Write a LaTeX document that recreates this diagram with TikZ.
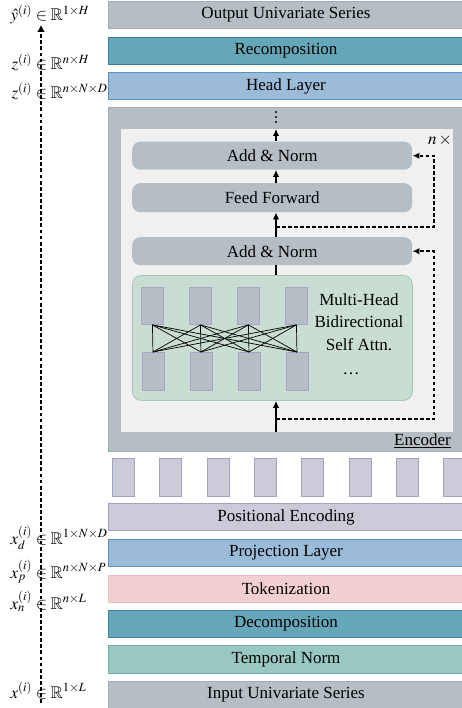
\documentclass[tikz,border=0pt]{standalone}
\usepackage{amssymb}
\usepackage{mathptmx}
\usepackage{fontspec}
\setmainfont{Liberation Serif}
\usetikzlibrary{arrows.meta}
\definecolor{barg}{HTML}{B4BEC3}
\definecolor{bargb}{HTML}{A3AEB4}
\definecolor{tealc}{HTML}{65A7B9}
\definecolor{tealb}{HTML}{3F8098}
\definecolor{bluec}{HTML}{9BBCD9}
\definecolor{blueb}{HTML}{5E90BE}
\definecolor{pinkc}{HTML}{F2CFD0}
\definecolor{pinkb}{HTML}{EBBDBD}
\definecolor{greenc}{HTML}{98C8C1}
\definecolor{greenb}{HTML}{6FB0A6}
\definecolor{lavc}{HTML}{CBCBD7}
\definecolor{lavb}{HTML}{A3A2C2}
\definecolor{innerc}{HTML}{F0F0F0}
\definecolor{mhac}{HTML}{C9DDD3}
\definecolor{mhab}{HTML}{A9C5B8}
\definecolor{blkc}{HTML}{B4BEC4}
\definecolor{attb}{HTML}{A7A5C6}
\newcommand{\bigtxt}{\fontsize{17}{20}\selectfont}
\newcommand{\mhtxt}{\fontsize{17}{22.5}\selectfont}
\tikzset{
  bar/.style={draw, line width=1pt, minimum width=355pt, minimum height=27pt, inner sep=0pt, anchor=north west, font=\bigtxt},
  blockbox/.style={fill=blkc, rounded corners=8pt, minimum width=280pt, minimum height=28pt, inner sep=0pt, anchor=north west, font=\bigtxt},
  attrect/.style={draw=attb, fill=blkc, line width=0.9pt, minimum width=22pt, inner sep=0pt, anchor=north west},
  tokrect/.style={draw=lavb, fill=lavc, line width=0.9pt, minimum width=22pt, minimum height=38pt, inner sep=0pt, anchor=north west},
  lbl/.style={inner sep=0pt, font=\bigtxt},
  leftdash/.style={line width=2.2pt, dash pattern=on 3.8pt off 2.3pt, -{Latex[length=7pt,width=8pt]}},
  arr/.style={line width=1.6pt, -{Latex[length=7pt,width=6.5pt]}},
  dsh/.style={line width=1.8pt, dash pattern=on 3.5pt off 2.5pt, -{Latex[length=7pt,width=6.5pt]}},
  plainline/.style={line width=1.6pt},
  wire/.style={line width=0.7pt, black}
}
\begin{document}
\begin{tikzpicture}[x=1pt, y=-1pt]
\useasboundingbox (0,0) rectangle (462,708);
\clip (0,0) rectangle (462,708);
% top bars
\node[bar, fill=barg, draw=bargb] (out) at (108,1) {Output Univariate Series};
\node[bar, fill=tealc, draw=tealb] (recomp) at (108,37) {Recomposition};
\node[bar, fill=bluec, draw=blueb] (head) at (108,72) {Head Layer};
% encoder
\node[draw=bargb, fill=barg, line width=1pt, minimum width=355pt, minimum height=344pt, inner sep=0pt, anchor=north west] (enc) at (108,107) {};
\node[fill=innerc, minimum width=332pt, minimum height=303pt, inner sep=0pt, anchor=north west] (innerbox) at (121,129) {};
\node[anchor=base east, inner sep=0pt, font=\bigtxt] (enclbl) at (451,445) {\underline{Encoder}};
\node[blockbox] (anA) at (132,141.5) {Add \& Norm};
\node[blockbox, minimum height=29pt] (ff) at (132,183) {Feed Forward};
\node[blockbox] (anB) at (132,237) {Add \& Norm};
\node[draw=mhab, fill=mhac, line width=0.8pt, rounded corners=9pt, minimum width=280pt, minimum height=125pt, inner sep=0pt, anchor=north west] (mha) at (132,275) {};
\node[lbl, font=\mhtxt, align=center] (mhtext) at (359,322) {Multi-Head\\Bidirectional\\Self Attn.};
\node[lbl] (mhdots) at (351,374) {…};
\node[lbl] (ntimes) at (440,140) {$n\,\times$};
% attention rects
\foreach \k in {0,1,2,3}{
  \node[attrect, minimum height=37pt] (at\k) at (141+48*\k,287) {};
  \node[attrect, minimum height=38pt] (ab\k) at (141.5+48*\k,352) {};
}
\foreach \i in {0,1,2,3}{
  \foreach \j in {0,1,2,3}{
    \draw[wire] (at\i.south) -- (ab\j.north);
  }
}
% flow in encoder
\coordinate (ax) at (276,0);
\coordinate (dx) at (434,0);
\coordinate (b1) at (276,419);
\coordinate (b2) at (276,227);
\draw[arr] (innerbox.south -| ax) -- (mha.south -| ax);
\draw[plainline] (mha.north -| ax) -- (anB.south -| ax);
\draw[arr] (anB.north -| ax) -- (ff.south -| ax);
\draw[arr] (ff.north -| ax) -- (anA.south -| ax);
\draw[arr] (anA.north -| ax) -- (innerbox.north -| ax);
\draw[dsh] (b1) -| (dx |- anB.east) -- (anB.east);
\draw[dsh] (b2) -| (dx |- anA.east) -- (anA.east);
\coordinate (d1) at (276,112);
\coordinate (d2) at (276,117);
\coordinate (d3) at (276,122);
\fill (d1) circle (1.1pt);
\fill (d2) circle (1.1pt);
\fill (d3) circle (1.1pt);
% tokens
\foreach \k in {0,...,7}{
  \node[tokrect] (tok\k) at (112+47.3*\k,458) {};
}
% bottom bars
\node[bar, fill=lavc, draw=lavb] (pe) at (108,503) {Positional Encoding};
\node[bar, fill=bluec, draw=blueb] (proj) at (108,539) {Projection Layer};
\node[bar, fill=pinkc, draw=pinkb, minimum height=27.5pt] (tokz) at (108,574.5) {Tokenization};
\node[bar, fill=tealc, draw=tealb, minimum height=27.5pt] (decomp) at (108,609.5) {Decomposition};
\node[bar, fill=greenc, draw=greenb, minimum height=28pt] (tnorm) at (108,645) {Temporal Norm};
\node[bar, fill=barg, draw=bargb, minimum height=28pt] (inp) at (108,680.5) {Input Univariate Series};
% left dashed arrow
\coordinate (lb) at (41,703);
\coordinate (lt) at (41,25);
\draw[leftdash] (lb) -- (lt);
% left labels
\node[lbl, anchor=base] (e1) at (41.5,21) {$\in$};
\node[lbl, anchor=base east] (l1) at ([xshift=-3.5pt]e1.base west) {$\hat{y}^{(i)}$};
\node[lbl, anchor=base west] (r1) at ([xshift=3pt]e1.base east) {$\mathbb{R}^{1\times H}$};
\node[lbl, anchor=base] (e2) at (41.5,70) {$\in$};
\node[lbl, anchor=base east] (l2) at ([xshift=-3.5pt]e2.base west) {$z^{(i)}$};
\node[lbl, anchor=base west] (r2) at ([xshift=3pt]e2.base east) {$\mathbb{R}^{n\times H}$};
\node[lbl, anchor=base] (e3) at (41.5,99) {$\in$};
\node[lbl, anchor=base east] (l3) at ([xshift=-3.5pt]e3.base west) {$z^{(i)}$};
\node[lbl, anchor=base west] (r3) at ([xshift=3pt]e3.base east) {$\mathbb{R}^{n\times N\times D}$};
\node[lbl, anchor=base] (e4) at (41.5,544) {$\in$};
\node[lbl, anchor=base east] (l4) at ([xshift=-3.5pt]e4.base west) {$x_d^{(i)}$};
\node[lbl, anchor=base west] (r4) at ([xshift=3pt]e4.base east) {$\mathbb{R}^{1\times N\times D}$};
\node[lbl, anchor=base] (e5) at (41.5,578) {$\in$};
\node[lbl, anchor=base east] (l5) at ([xshift=-3.5pt]e5.base west) {$x_p^{(i)}$};
\node[lbl, anchor=base west] (r5) at ([xshift=3pt]e5.base east) {$\mathbb{R}^{n\times N\times P}$};
\node[lbl, anchor=base] (e6) at (41.5,609) {$\in$};
\node[lbl, anchor=base east] (l6) at ([xshift=-3.5pt]e6.base west) {$x_n^{(i)}$};
\node[lbl, anchor=base west] (r6) at ([xshift=3pt]e6.base east) {$\mathbb{R}^{n\times L}$};
\node[lbl, anchor=base] (e7) at (41.5,698) {$\in$};
\node[lbl, anchor=base east] (l7) at ([xshift=-3.5pt]e7.base west) {$x^{(i)}$};
\node[lbl, anchor=base west] (r7) at ([xshift=3pt]e7.base east) {$\mathbb{R}^{1\times L}$};
\end{tikzpicture}
\end{document}
